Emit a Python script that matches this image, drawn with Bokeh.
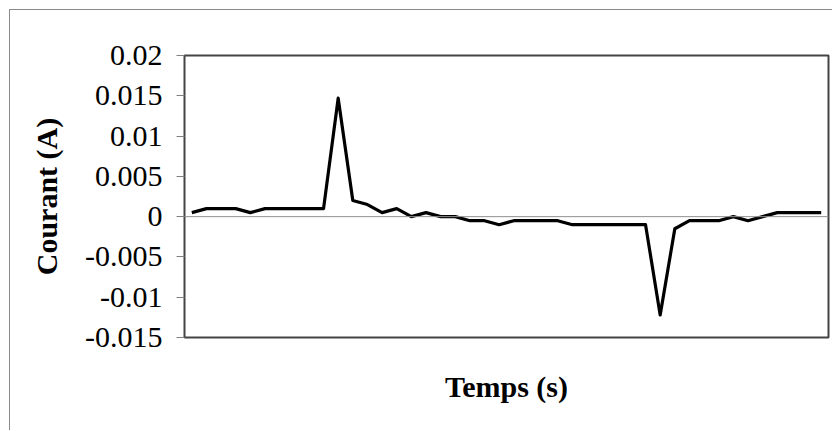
from bokeh.plotting import figure
from bokeh.models import Range1d, FixedTicker, Span
from bokeh.embed import file_html
from bokeh.resources import INLINE

# ---- data ----
samples = list(range(1, 45))
courant = [0.0005, 0.001, 0.001, 0.001, 0.0005, 0.001, 0.001, 0.001, 0.001, 0.001,
           0.0147, 0.002, 0.0015, 0.0005, 0.001, 0.0, 0.0005, 0.0, 0.0, -0.0005,
           -0.0005, -0.001, -0.0005, -0.0005, -0.0005, -0.0005, -0.001, -0.001, -0.001, -0.001,
           -0.001, -0.001, -0.0122, -0.0015, -0.0005, -0.0005, -0.0005, 0.0, -0.0005, 0.0,
           0.0005, 0.0005, 0.0005, 0.0005]
y_ticks = [-0.015, -0.01, -0.005, 0.0, 0.005, 0.01, 0.015, 0.02]
y_tick_labels = ["-0.015", "-0.01", "-0.005", "0", "0.005", "0.01", "0.015", "0.02"]

FONT = "Liberation Serif"

p = figure(width=823, height=421, output_backend="svg", toolbar_location=None,
           x_range=Range1d(0.5, 44.5), y_range=Range1d(-0.015, 0.02),
           min_border_left=174, min_border_right=5, min_border_top=45, min_border_bottom=94)
p.styles = {"margin-left": "9px", "margin-top": "9px",
            "border-left": "1px solid #8a8a8a", "border-top": "1px solid #8a8a8a"}

p.grid.visible = False
p.outline_line_color = "#444444"
p.outline_line_width = 2
p.background_fill_color = "white"
p.border_fill_color = "white"

# zero line (category axis)
p.add_layout(Span(location=0, dimension="width", line_color="#909090", line_width=1))

p.line(samples, courant, line_color="black", line_width=3.2, line_join="round")

ya = p.yaxis[0]
ya.ticker = FixedTicker(ticks=y_ticks)
ya.major_label_overrides = {t: l for t, l in zip(y_ticks, y_tick_labels)}
ya.major_label_text_font = FONT
ya.major_label_text_font_size = "30px"
ya.major_label_text_color = "black"
ya.major_label_standoff = 14
ya.axis_line_color = None
ya.major_tick_line_color = "#808080"
ya.major_tick_out = 8
ya.major_tick_in = 0
ya.minor_tick_line_color = None
ya.axis_label = "Courant (A)"
ya.axis_label_text_font = FONT
ya.axis_label_text_font_size = "30px"
ya.axis_label_text_font_style = "bold"
ya.axis_label_text_color = "black"
ya.axis_label_standoff = 19

xa = p.xaxis[0]
xa.ticker = FixedTicker(ticks=[])
xa.axis_line_color = None
xa.major_tick_line_color = None
xa.minor_tick_line_color = None
xa.major_label_text_font_size = "0px"
xa.axis_label = "Temps (s)"
xa.axis_label_text_font = FONT
xa.axis_label_text_font_size = "30px"
xa.axis_label_text_font_style = "bold"
xa.axis_label_text_color = "black"
xa.axis_label_standoff = 32

open("out.html", "w").write(file_html(p, INLINE))
